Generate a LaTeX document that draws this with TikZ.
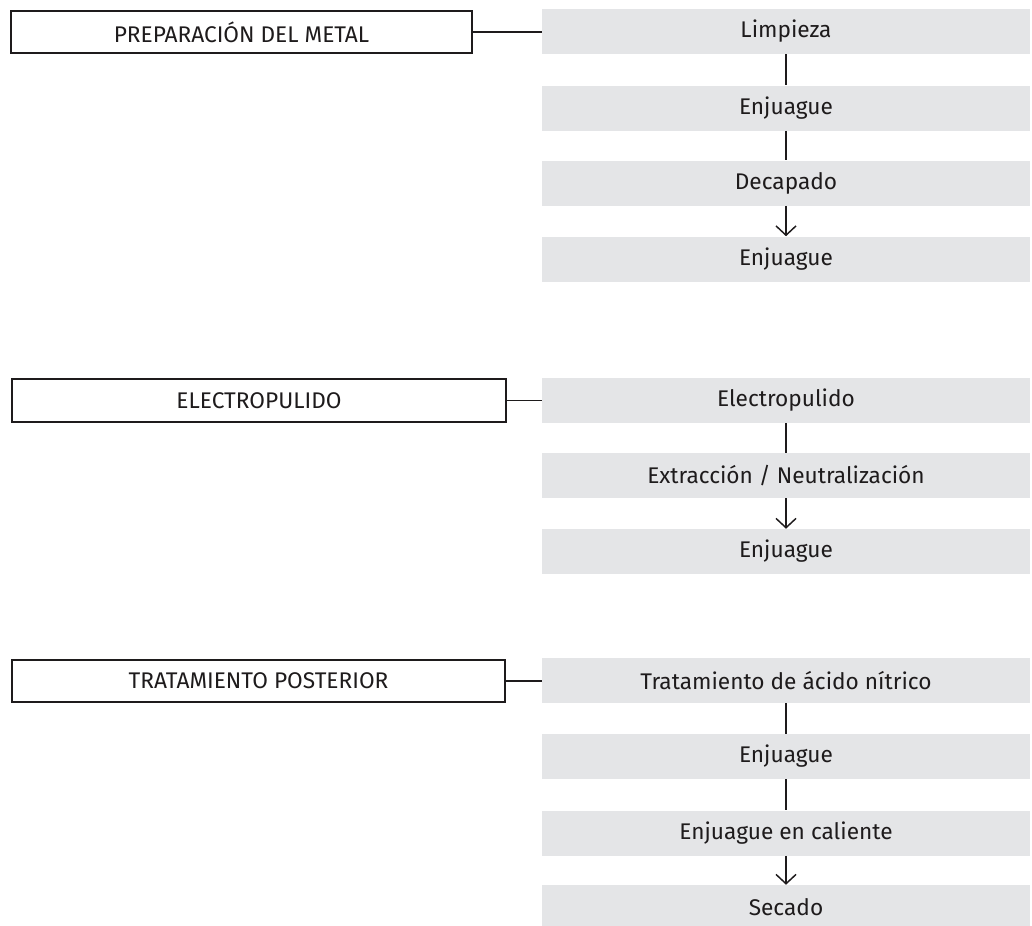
\documentclass[tikz,border=0pt]{standalone}
\usepackage{fontspec}
\setmainfont{Fira Sans}
\usetikzlibrary{arrows.meta}
\definecolor{boxgray}{HTML}{E4E5E7}
\definecolor{ink}{HTML}{1E1B1C}
\tikzset{
  px/.style={x=0.75pt,y=-0.75pt},
  stepbox/.style={fill=boxgray,draw=none,minimum width=366pt,minimum height=33.75pt,inner sep=0pt,text=ink,font=\fontsize{17}{20}\selectfont},
  phasebox/.style={draw=ink,line width=1.5pt,fill=white,minimum height=32pt,inner sep=0pt,text=ink,font=\fontsize{17}{20}\selectfont},
  link/.style={draw=ink,line width=1.1pt},
  hlink/.style={draw=ink,line width=1.4pt},
  arrowlink/.style={draw=ink,line width=1.1pt,-{Straight Barb[length=7pt,width=15pt,line width=1.1pt]}}
}
\begin{document}
\begin{tikzpicture}[px]
\useasboundingbox (0,0) rectangle (1032,925);
% Section 1
\node[phasebox,minimum width=345.75pt] (p1) at (241.5,32) {PREPARACIÓN DEL METAL};
\node[stepbox] (a1) at (786,31.5) {Limpieza};
\node[stepbox] (a2) at (786,108) {Enjuague};
\node[stepbox] (a3) at (786,183) {Decapado};
\node[stepbox] (a4) at (786,259) {Enjuague};
% Section 2
\node[phasebox,minimum width=370.5pt] (p2) at (259,400.5) {ELECTROPULIDO};
\node[stepbox] (b1) at (786,400.5) {Electropulido};
\node[stepbox] (b2) at (786,475.5) {Extracción / Neutralización};
\node[stepbox] (b3) at (786,551.5) {Enjuague};
% Section 3
\node[phasebox,minimum width=369.75pt] (p3) at (258.5,681) {TRATAMIENTO POSTERIOR};
\node[stepbox] (c1) at (786,680.5) {Tratamiento de ácido nítrico};
\node[stepbox] (c2) at (786,756.5) {Enjuague};
\node[stepbox] (c3) at (786,833) {Enjuague en caliente};
\node[stepbox] (c4) at (786,907.5) {Secado};
% connectors
\draw[hlink] (p1.east) -- (p1.east -| a1.west);
\draw[hlink] (p2.east) -- (p2.east -| b1.west);
\draw[hlink] (p3.east) -- (p3.east -| c1.west);
\draw[link] (a1.south) -- (a2.north);
\draw[link] (a2.south) -- (a3.north);
\draw[arrowlink] (a3.south) -- (a4.north);
\draw[link] (b1.south) -- (b2.north);
\draw[arrowlink] (b2.south) -- (b3.north);
\draw[link] (c1.south) -- (c2.north);
\draw[link] (c2.south) -- (c3.north);
\draw[arrowlink] (c3.south) -- (c4.north);
\end{tikzpicture}
\end{document}
